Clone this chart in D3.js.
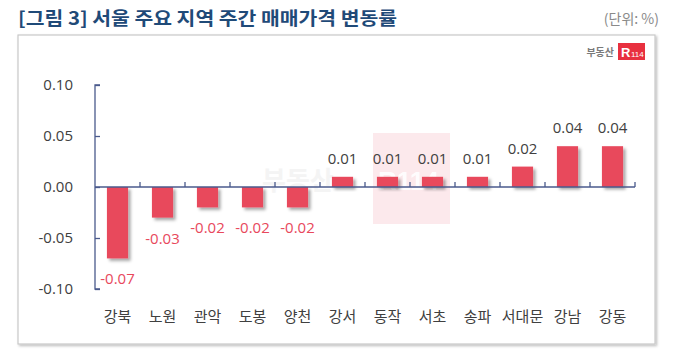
<!DOCTYPE html>
<html>
<head>
<meta charset="utf-8">
<script src="https://cdn.jsdelivr.net/npm/d3@7"></script>
<style>
  html, body { margin: 0; padding: 0; background: #fff; }
  svg { display: block; }
</style>
</head>
<body>
<svg id="chart" width="674" height="357"></svg>
<script>
const categories = ["강북", "노원", "관악", "도봉", "양천", "강서", "동작", "서초", "송파", "서대문", "강남", "강동"];
const values = [-0.07, -0.03, -0.02, -0.02, -0.02, 0.01, 0.01, 0.01, 0.01, 0.02, 0.04, 0.04];
const yTicks = [0.10, 0.05, 0.00, -0.05, -0.10];
const titleText = "[그림 3] 서울 주요 지역 주간 매매가격 변동률";
const unitText = "(단위: %)";

const svg = d3.select("#chart");
const KR = "'Noto Sans CJK KR', 'Noto Sans', sans-serif";
const NUM = "'Open Sans', 'Noto Sans', sans-serif";
const barColor = "#E8485C";
const axisColor = "#4A5A8C";
const fmt = d => d3.format(".2f")(d).replace("\u2212", "-");

const defs = svg.append("defs");
const sh = defs.append("filter").attr("id", "barShadow")
  .attr("x", "-30%").attr("y", "-30%").attr("width", "170%").attr("height", "170%");
sh.append("feDropShadow").attr("dx", 2.5).attr("dy", 2.5).attr("stdDeviation", 1.4)
  .attr("flood-color", "#000").attr("flood-opacity", 0.35);
const bs = defs.append("filter").attr("id", "boxShadow")
  .attr("x", "-5%").attr("y", "-5%").attr("width", "110%").attr("height", "110%");
bs.append("feDropShadow").attr("dx", 1.5).attr("dy", 1.5).attr("stdDeviation", 0.8)
  .attr("flood-color", "#000").attr("flood-opacity", 0.25);

// Title
svg.append("text").attr("x", 18).attr("y", 25)
  .attr("font-family", KR).attr("font-weight", 700).attr("font-size", 18)
  .attr("fill", "#1F4A78")
  .attr("textLength", 379).attr("lengthAdjust", "spacingAndGlyphs")
  .text(titleText);
svg.append("text").attr("x", 659).attr("y", 24).attr("text-anchor", "end")
  .attr("font-family", KR).attr("font-size", 14).attr("fill", "#8a8a8a")
  .text(unitText);

// Box
svg.append("rect").attr("x", 18).attr("y", 35).attr("width", 637).attr("height", 309)
  .attr("fill", "#fff").attr("stroke", "#c9c9c9").attr("stroke-width", 1.2)
  .attr("filter", "url(#boxShadow)");

// Logo
svg.append("text").attr("x", 614).attr("y", 56).attr("text-anchor", "end")
  .attr("font-family", KR).attr("font-weight", 700).attr("font-size", 10).attr("fill", "#7a7a7a")
  .text("부동산");
svg.append("rect").attr("x", 618).attr("y", 43).attr("width", 27).attr("height", 17).attr("fill", "#E8303F");
const lg = svg.append("text").attr("x", 621).attr("y", 57)
  .attr("font-family", "Arial, 'Liberation Sans', sans-serif").attr("fill", "#fff");
lg.append("tspan").attr("font-weight", 700).attr("font-size", 13).text("R");
lg.append("tspan").attr("font-size", 8).attr("dx", 0.5).text("114");

// Scales
const x = d3.scaleBand().domain(categories).range([95, 635]).paddingInner(0.53).paddingOuter(0.265);
const y = d3.scaleLinear().domain([-0.1, 0.1]).range([289, 85]);

// Watermark
svg.append("rect").attr("x", 373).attr("y", 133).attr("width", 77).attr("height", 91)
  .attr("fill", "#FCE9EC");
svg.append("text").attr("x", 262).attr("y", 190)
  .attr("font-family", KR).attr("font-weight", 700).attr("font-size", 26)
  .attr("fill", "#f4f4f4").text("부동산");
svg.append("text").attr("x", 378).attr("y", 190)
  .attr("font-family", "Arial, sans-serif").attr("font-weight", 700).attr("font-size", 26)
  .attr("fill", "#ffffff").attr("opacity", 0.9).text("R114");

// Y axis
const yAxis = d3.axisRight(y).tickValues(yTicks).tickSize(5).tickFormat("");
const yg = svg.append("g").attr("transform", "translate(95,0)").call(yAxis);
yg.select(".domain").attr("stroke", axisColor).attr("stroke-width", 1.3)
  .attr("d", `M5,${y(0.1)}H0V${y(-0.1)}H5`);
yg.selectAll(".tick line").attr("stroke", axisColor).attr("stroke-width", 1.3);

svg.append("g").selectAll("text").data(yTicks).join("text")
  .attr("x", 73).attr("y", d => y(d)).attr("dy", "0.36em").attr("text-anchor", "end")
  .attr("font-family", NUM).attr("font-size", 15).attr("fill", "#404040")
  .text(fmt);

// Bars
svg.append("g").selectAll("rect").data(values).join("rect")
  .attr("x", (d, i) => x(categories[i]))
  .attr("y", d => y(Math.max(0, d)))
  .attr("width", x.bandwidth())
  .attr("height", d => Math.abs(y(d) - y(0)))
  .attr("fill", barColor)
  .attr("filter", "url(#barShadow)");

// X axis (at zero) with upward ticks at band boundaries
const xg = svg.append("g");
xg.append("line").attr("x1", 95).attr("x2", 635).attr("y1", y(0)).attr("y2", y(0))
  .attr("stroke", axisColor).attr("stroke-width", 1.3);
xg.selectAll("line.t").data(categories).join("line").attr("class", "t")
  .attr("x1", d => x(d) - x.step() * x.paddingOuter() + x.step())
  .attr("x2", d => x(d) - x.step() * x.paddingOuter() + x.step())
  .attr("y1", y(0)).attr("y2", y(0) - 5)
  .attr("stroke", axisColor).attr("stroke-width", 1.3);

// Value labels
svg.append("g").selectAll("text").data(values).join("text")
  .attr("x", (d, i) => x(categories[i]) + x.bandwidth() / 2)
  .attr("y", d => d < 0 ? y(d) + 26 : y(d) - 13)
  .attr("text-anchor", "middle")
  .attr("font-family", NUM).attr("font-size", 15)
  .attr("fill", d => d < 0 ? "#E8485C" : "#404040")
  .text(fmt);

// Category labels
svg.append("g").selectAll("text").data(categories).join("text")
  .attr("x", d => x(d) + x.bandwidth() / 2)
  .attr("y", 322)
  .attr("text-anchor", "middle")
  .attr("font-family", KR).attr("font-size", 15).attr("fill", "#404040")
  .text(d => d);
</script>
</body>
</html>
